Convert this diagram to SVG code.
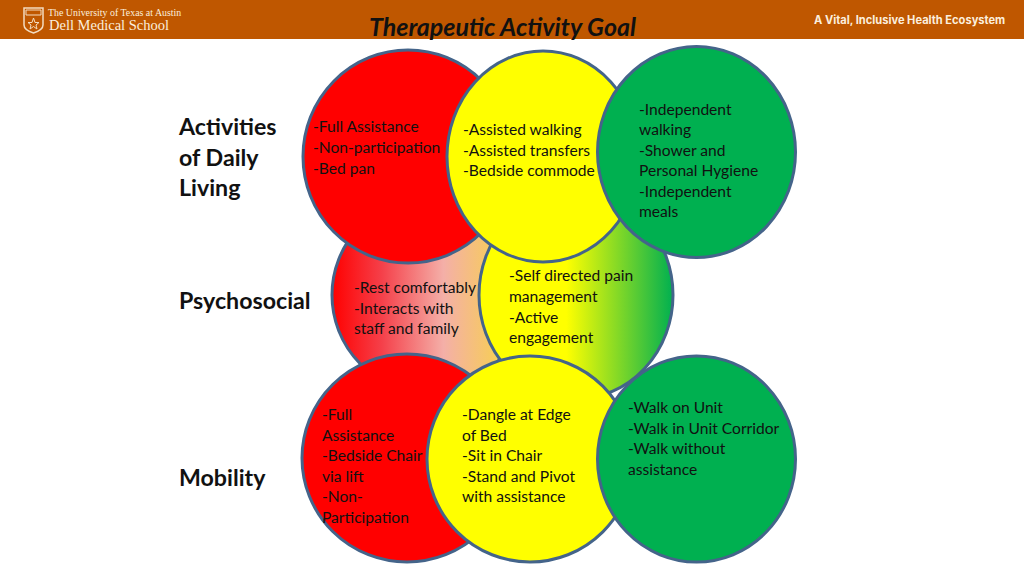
<svg xmlns="http://www.w3.org/2000/svg" width="1024" height="576" viewBox="0 0 1024 576">
<defs>
<linearGradient id="g1" x1="0" x2="1" y1="0" y2="0"><stop offset="0" stop-color="#ff0000"/><stop offset="0.26" stop-color="#f5404a"/><stop offset="0.58" stop-color="#f4afa8"/><stop offset="1" stop-color="#f8dc30"/></linearGradient>
<linearGradient id="g2" x1="0" x2="1" y1="0" y2="0"><stop offset="0" stop-color="#ffff00"/><stop offset="0.45" stop-color="#ffff00"/><stop offset="1" stop-color="#00b050"/></linearGradient>
<style>
.c{stroke:#44648a;stroke-width:3}
.r{fill:#ff0000}.y{fill:#ffff00}.g{fill:#00b050}
.t{font-family:Lato,"Open Sans",sans-serif;font-size:15.600px;fill:#111}
.h{font-family:Lato,"Open Sans",sans-serif;font-size:23.200px;font-weight:700;fill:#111}
</style>
</defs>
<rect id="banner" x="0" y="0" width="1024" height="39" fill="#bf5700"/>
<g id="logo" fill="#fbeedd">
<path d="M24 8H43V25Q43 30 33.500 33Q24 30 24 25Z" fill="none" stroke="#f3dcc0" stroke-width="1.500"/>
<path d="M26 10H41V15H26Z" fill="none" stroke="#f3dcc0" stroke-width="1"/>
<path d="M33.500 18L35 22.500H39L36 25L37 29L33.500 26.500L30 29L31 25L28 22.500H32Z" fill="none" stroke="#f3dcc0" stroke-width="1"/>
<text x="48" y="15.500" font-family="Liberation Serif,serif" font-size="9.900">The University of Texas at Austin</text>
<text x="49" y="29.500" font-family="Liberation Serif,serif" font-size="14.500">Dell Medical School</text>
</g>
<text id="tagline" x="814" y="24" font-family="Inter,Liberation Sans,sans-serif" font-size="11.100" font-weight="700" fill="#fbeedd">A Vital, Inclusive Health Ecosystem</text>
<text id="title" x="369" y="36" font-family="Lato,Open Sans,sans-serif" font-size="25" font-weight="700" font-style="italic" fill="#111">Therapeutic Activity Goal</text>

<g id="psy-red"><ellipse class="c" cx="428" cy="295" rx="96" ry="97" fill="url(#g1)"/>
<text class="t" x="354" y="293">-Rest comfortably</text><text class="t" x="354" y="314">-Interacts with</text><text class="t" x="354" y="334">staff and family</text></g>
<g id="psy-yellow"><ellipse class="c" cx="576" cy="295" rx="97" ry="104" fill="url(#g2)"/>
<text class="t" x="509" y="281">-Self directed pain</text><text class="t" x="509" y="302">management</text><text class="t" x="509" y="323">-Active</text><text class="t" x="509" y="343">engagement</text></g>

<g id="adl-red"><ellipse class="c r" cx="408" cy="156.500" rx="105" ry="106.500"/>
<text class="t" x="313" y="132">-Full Assistance</text><text class="t" x="313" y="153">-Non-participation</text><text class="t" x="313" y="174">-Bed pan</text></g>
<g id="adl-yellow"><ellipse class="c y" cx="543" cy="156.500" rx="96" ry="105.500"/>
<text class="t" x="463" y="135">-Assisted walking</text><text class="t" x="463" y="156">-Assisted transfers</text><text class="t" x="463" y="176">-Bedside commode</text></g>
<g id="adl-green"><ellipse class="c g" cx="696.500" cy="152" rx="99" ry="105.500"/>
<text class="t" x="639" y="115">-Independent</text><text class="t" x="639" y="135">walking</text><text class="t" x="639" y="156">-Shower and</text><text class="t" x="639" y="176">Personal Hygiene</text><text class="t" x="639" y="197">-Independent</text><text class="t" x="639" y="217">meals</text></g>

<g id="mob-red"><ellipse class="c r" cx="407" cy="458" rx="105" ry="104"/>
<text class="t" x="322" y="420">-Full</text><text class="t" x="322" y="441">Assistance</text><text class="t" x="322" y="461">-Bedside Chair</text><text class="t" x="322" y="482">via lift</text><text class="t" x="322" y="502">-Non-</text><text class="t" x="322" y="523">Participation</text></g>
<g id="mob-yellow"><ellipse class="c y" cx="530" cy="459" rx="103" ry="103"/>
<text class="t" x="462" y="420">-Dangle at Edge</text><text class="t" x="462" y="441">of Bed</text><text class="t" x="462" y="461">-Sit in Chair</text><text class="t" x="462" y="482">-Stand and Pivot</text><text class="t" x="462" y="502">with assistance</text></g>
<g id="mob-green"><ellipse class="c g" cx="696.500" cy="459" rx="99" ry="103"/>
<text class="t" x="628" y="413">-Walk on Unit</text><text class="t" x="628" y="434">-Walk in Unit Corridor</text><text class="t" x="628" y="454">-Walk without</text><text class="t" x="628" y="475">assistance</text></g>

<g id="labels">
<text class="h" x="179" y="135">Activities</text><text class="h" x="179" y="166">of Daily</text><text class="h" x="179" y="196">Living</text>
<text class="h" x="179" y="309">Psychosocial</text>
<text class="h" x="179" y="486">Mobility</text>
</g>
</svg>
